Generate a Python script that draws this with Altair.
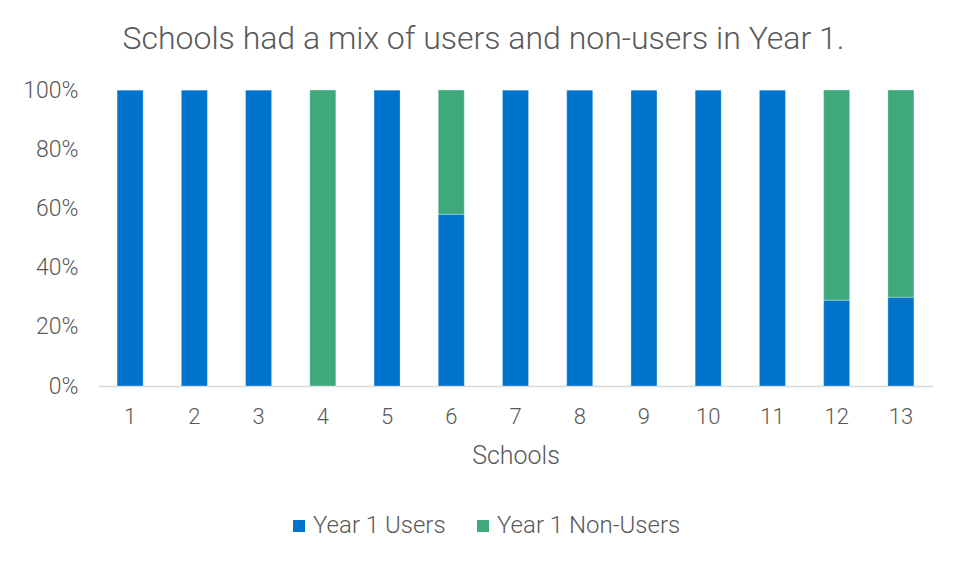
import altair as alt
import pandas as pd

schools = [str(i) for i in range(1, 14)]
users = [100, 100, 100, 0, 100, 58, 100, 100, 100, 100, 100, 29, 30]
non_users = [0, 0, 0, 100, 0, 42, 0, 0, 0, 0, 0, 71, 70]
series = ["Year 1 Users", "Year 1 Non-Users"]
colors = ["#0073CC", "#3FA97C"]

rows = []
for s, u, n in zip(schools, users, non_users):
    rows.append({"School": s, "Series": series[0], "Value": u, "ord": 0})
    rows.append({"School": s, "Series": series[1], "Value": n, "ord": 1})
df = pd.DataFrame(rows)

FONT = "Roboto"
GRAY = "#595959"

chart = alt.Chart(df).mark_bar(stroke="#ffffff", strokeWidth=0.8, strokeOpacity=0.35).encode(
    x=alt.X("School:N", sort=schools,
            scale=alt.Scale(paddingInner=0.595, paddingOuter=0.2975),
            axis=alt.Axis(title="Schools", labelAngle=0, ticks=False,
                          domainColor="#D9D9D9", domainWidth=1.3,
                          labelFont=FONT, labelFontSize=22, labelFontWeight=300,
                          labelColor=GRAY, labelPadding=20,
                          titleFont=FONT, titleFontSize=25, titleFontWeight=300,
                          titleColor=GRAY, titlePadding=16)),
    y=alt.Y("Value:Q", stack="zero",
            scale=alt.Scale(domain=[0, 100], nice=False),
            axis=alt.Axis(title=None, values=[0, 20, 40, 60, 80, 100],
                          labelExpr="datum.value + '%'", grid=False,
                          domain=False, ticks=False,
                          labelFont=FONT, labelFontSize=23, labelFontWeight=300,
                          labelColor=GRAY, labelPadding=20)),
    color=alt.Color("Series:N", sort=series,
                    scale=alt.Scale(domain=series, range=colors),
                    legend=alt.Legend(title=None, orient="none", direction="horizontal",
                                      legendX=189, legendY=424,
                                      symbolType="square", symbolSize=144,
                                      symbolStrokeWidth=0, labelLimit=400,
                                      labelFont=FONT, labelFontSize=24,
                                      labelFontWeight=300, labelColor=GRAY,
                                      labelOffset=2, columnPadding=25)),
    order=alt.Order("ord:Q"),
).properties(
    width=835,
    height=296,
    title=alt.TitleParams("Schools had a mix of users and non-users in Year 1.",
                          font=FONT, fontSize=32, fontWeight=300, color=GRAY,
                          anchor="middle", dx=-32, offset=23),
    autosize=alt.AutoSizeParams(type="none"),
    padding={"left": 90, "top": 82, "right": 20, "bottom": 160},
).configure(background="white").configure_view(strokeWidth=0, stroke=None)

chart.save("out.html", embed_options={"renderer": "svg", "actions": False})
